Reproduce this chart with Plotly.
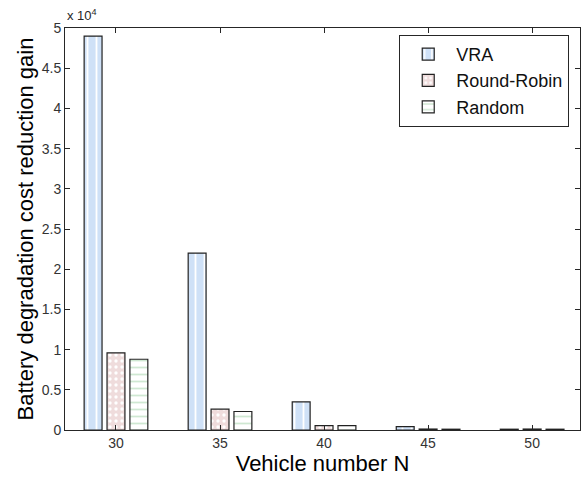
import plotly.graph_objects as go

vehicles = [30, 35, 40, 45, 50]
vra = [49000, 22000, 3500, 420, 100]
round_robin = [9600, 2600, 550, 120, 120]
random_ = [8800, 2300, 550, 100, 100]
ytick_vals = [0, 5000, 10000, 15000, 20000, 25000, 30000, 35000, 40000, 45000, 50000]
ytick_text = ["0", "0.5", "1", "1.5", "2", "2.5", "3", "3.5", "4", "4.5", "5"]

edge = dict(color="#222222", width=1.2)
bw = 0.86

fig = go.Figure()
fig.add_trace(go.Bar(
    x=vehicles, y=vra, name="VRA", width=bw, offset=-1.53,
    marker=dict(color="#cfe1f7", line=edge,
                pattern=dict(shape="|", bgcolor="#cfe1f7", fgcolor="#ffffff",
                             size=9, solidity=0.2, fillmode="replace")),
))
fig.add_trace(go.Bar(
    x=vehicles, y=round_robin, name="Round-Robin", width=bw, offset=-0.43,
    marker=dict(color="#efdcdc", line=edge,
                pattern=dict(shape=".", bgcolor="#efdcdc", fgcolor="#ffffff",
                             size=6, solidity=0.25, fillmode="replace")),
))
fig.add_trace(go.Bar(
    x=vehicles, y=random_, name="Random", width=bw, offset=0.67,
    marker=dict(color="#ffffff", line=edge,
                pattern=dict(shape="-", bgcolor="#ffffff", fgcolor="#cfe8d2",
                             size=7, solidity=0.25, fillmode="replace")),
))

axis_common = dict(
    showline=True, linecolor="#262626", linewidth=1, mirror="ticks",
    ticks="inside", ticklen=5, tickcolor="#262626", showgrid=False,
    zeroline=False, automargin=False,
    tickfont=dict(family="Liberation Sans, Arial", size=14, color="#333333"),
)

fig.update_layout(
    width=581, height=484,
    margin=dict(l=65, r=1, t=28, b=54),
    paper_bgcolor="white", plot_bgcolor="white",
    showlegend=True,
    font=dict(family="Liberation Sans, Arial", color="#111111"),
    xaxis=dict(range=[27.55, 52.3], tickvals=vehicles,
               title=dict(text="Vehicle number N", font=dict(size=22, color="#000000"),
                          standoff=2),
               **axis_common),
    yaxis=dict(range=[0, 50000], tickvals=ytick_vals, ticktext=ytick_text,
               title=dict(text="Battery degradation cost reduction gain",
                          font=dict(size=22, color="#000000"), standoff=2),
               **axis_common),
    legend=dict(x=0.649, y=0.983, xanchor="left", yanchor="top",
                bgcolor="white", bordercolor="#262626", borderwidth=1,
                font=dict(size=18, color="#111111"), itemwidth=46,
                tracegroupgap=0),
    annotations=[dict(text="x 10<sup>4</sup>", x=0, y=1, xref="paper", yref="paper",
                      xanchor="left", yanchor="bottom", showarrow=False,
                      font=dict(size=13, color="#262626"), yshift=3)],
)

fig.write_html("out.html", config={"displayModeBar": False},
               post_script="document.body.style.margin='0';document.body.style.overflow='hidden';")
